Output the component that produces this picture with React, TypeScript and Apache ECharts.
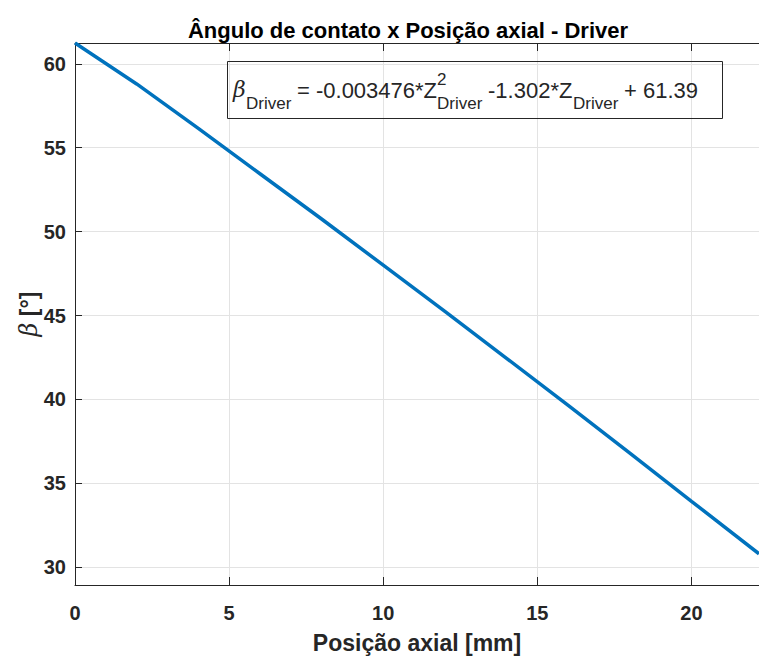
import React, { useEffect, useRef } from "react";
import * as echarts from "echarts";

const xPos = [0, 2, 4, 6, 8, 10, 12, 14, 16, 18, 20, 22.19];
const betaVals = [61.24, 58.8, 56.15, 53.45, 50.75, 48.0, 45.25, 42.45, 39.65, 36.8, 33.93, 30.8];
const xTicks = [0, 5, 10, 15, 20];
const yTicks = [30, 35, 40, 45, 50, 55, 60];

const TXT = "#262626";
const FONT = "Liberation Sans, Arial, Helvetica, sans-serif";

export default function App() {
  const ref = useRef<HTMLDivElement>(null);
  useEffect(() => {
    if (!ref.current) return;
    const chart = echarts.init(ref.current, undefined, { renderer: "svg" });
    const data = xPos.map((x, i) => [x, betaVals[i]]);
    const mainStyle = { fill: TXT, font: `22px ${FONT}`, verticalAlign: "middle" as const };
    const subStyle = { fill: TXT, font: `17px ${FONT}`, verticalAlign: "middle" as const };
    chart.setOption({
      animation: false,
      backgroundColor: "#ffffff",
      title: {
        text: "Ângulo de contato x Posição axial - Driver",
        left: 403,
        top: 14,
        textAlign: "center",
        textStyle: { color: "#000", fontFamily: FONT, fontWeight: "bold", fontSize: 22 },
      },
      grid: { left: 75, top: 43, right: 0, bottom: 68, containLabel: false },
      xAxis: [
        {
          type: "value",
          min: 0,
          max: 22.19,
          position: "bottom",
          name: "Posição axial [mm]",
          nameLocation: "middle",
          nameGap: 46,
          nameMoveOverlap: false,
          nameTextStyle: { color: TXT, fontFamily: FONT, fontWeight: "bold", fontSize: 23 },
          axisLine: { show: true, onZero: false, lineStyle: { color: TXT, width: 1 } },
          axisTick: { show: true, inside: true, length: 8, customValues: xTicks, lineStyle: { color: TXT } },
          axisLabel: {
            customValues: xTicks,
            margin: 18,
            color: TXT,
            fontFamily: FONT,
            fontWeight: "bold",
            fontSize: 20,
          },
          splitLine: { show: true, lineStyle: { color: "#e3e3e3", width: 1 } },
        },
        {
          type: "value",
          min: 0,
          max: 22.19,
          position: "top",
          axisLine: { show: true, onZero: false, lineStyle: { color: TXT, width: 1 } },
          axisTick: { show: true, inside: true, length: 8, customValues: xTicks, lineStyle: { color: TXT } },
          axisLabel: { show: false },
          splitLine: { show: false },
        },
      ],
      yAxis: {
        type: "value",
        min: 28.94,
        max: 61.24,
        name: "{b|β} [°]",
        nameLocation: "middle",
        nameGap: 34,
        nameMoveOverlap: false,
        nameRotate: 90,
        nameTextStyle: {
          color: TXT,
          fontFamily: FONT,
          fontWeight: "bold",
          fontSize: 23,
          rich: {
            b: { fontFamily: "DejaVu Serif, serif", fontStyle: "italic", fontWeight: "normal", fontSize: 24, color: TXT },
          },
        },
        axisLine: { show: true, onZero: false, lineStyle: { color: TXT, width: 1 } },
        axisTick: { show: true, inside: true, length: 7, customValues: yTicks, lineStyle: { color: TXT } },
        axisLabel: {
          customValues: yTicks,
          margin: 9,
          color: TXT,
          fontFamily: FONT,
          fontWeight: "bold",
          fontSize: 20,
        },
        splitLine: { show: true, lineStyle: { color: "#e3e3e3", width: 1 } },
      },
      series: [
        {
          type: "line",
          data,
          showSymbol: false,
          symbol: "none",
          smooth: false,
          lineStyle: { color: "#0072BD", width: 3.5 },
          clip: true,
          z: 3,
        },
      ],
      graphic: [
        {
          type: "rect",
          shape: { x: 227.5, y: 61.5, width: 495, height: 57 },
          style: { fill: "none", stroke: TXT, lineWidth: 1 },
          z: 10,
        },
        {
          type: "text",
          x: 233,
          y: 89,
          style: { text: "β", fill: TXT, font: `italic 22px DejaVu Serif, serif`, verticalAlign: "middle" },
          z: 10,
        },
        { type: "text", x: 246, y: 103, style: { ...subStyle, text: "Driver" }, z: 10 },
        { type: "text", x: 297, y: 90, style: { ...mainStyle, text: "= -0.003476*Z" }, z: 10 },
        { type: "text", x: 437, y: 79, style: { ...subStyle, text: "2" }, z: 10 },
        { type: "text", x: 437, y: 103, style: { ...subStyle, text: "Driver" }, z: 10 },
        { type: "text", x: 488, y: 90, style: { ...mainStyle, text: "-1.302*Z" }, z: 10 },
        { type: "text", x: 573, y: 103, style: { ...subStyle, text: "Driver" }, z: 10 },
        { type: "text", x: 624, y: 90, style: { ...mainStyle, text: "+ 61.39" }, z: 10 },
      ],
    });
    return () => chart.dispose();
  }, []);
  return (
    <div
      ref={ref}
      style={{ position: "fixed", left: 0, top: 0, width: 759, height: 659, background: "#fff" }}
    />
  );
}
